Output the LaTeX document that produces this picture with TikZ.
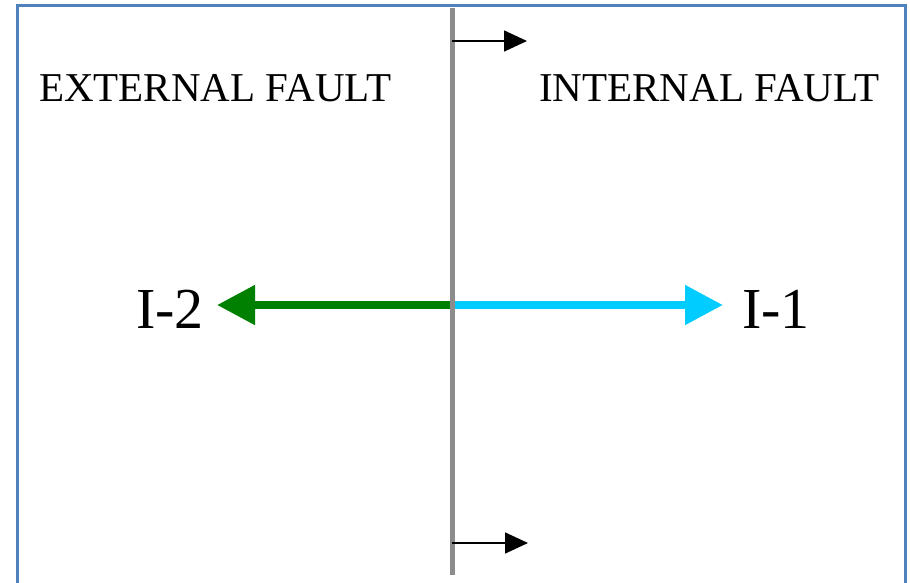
\documentclass[tikz,border=0pt]{standalone}
\usepackage{fontspec}
\setmainfont{Liberation Serif}
\usetikzlibrary{arrows.meta}
\definecolor{frameblue}{RGB}{79,129,189}
\definecolor{dividergray}{RGB}{140,140,140}
\definecolor{faultgreen}{RGB}{0,128,0}
\definecolor{faultcyan}{RGB}{0,204,255}
\begin{document}
\begin{tikzpicture}[x=1pt,y=-1pt,
  caption/.style={inner sep=0pt, anchor=base west, font=\fontsize{41}{44}\selectfont},
  currentlabel/.style={inner sep=0pt, anchor=base west, font=\fontsize{58}{60}\selectfont},
  bigarrow/.style={line width=8pt, -{Triangle[length=38pt,width=38pt]}},
  smallarrow/.style={line width=1.6pt, black, -{Triangle[length=23pt,width=21pt]}}]
  \useasboundingbox (0,0) rectangle (910,582);
  % outer frame, open at the bottom
  \draw[frameblue, line width=3pt] (17,590) -- (17,5) -- (905,5) -- (905,590);
  % boundary line
  \coordinate (divtop) at (452,8);
  \coordinate (divbot) at (452,575);
  \coordinate (origin) at (452,305);
  \coordinate (ttop) at (452,41);
  \coordinate (tbot) at (452,543);
  \coordinate (tipL) at (217,305);
  \coordinate (tipR) at (723,305);
  \coordinate (ttopend) at (527,41);
  \coordinate (tbotend) at (528,543);
  % labels
  \node[caption] (ext) at (39,101) {EXTERNAL FAULT};
  \node[caption] (int) at (539,101) {INTERNAL FAULT};
  \node[currentlabel] (i2) at (136,328) {I-2};
  \node[currentlabel] (i1) at (742,328) {I-1};
  % current arrows
  \draw[bigarrow, faultgreen] (origin) -- (tipL);
  \draw[bigarrow, faultcyan] (origin) -- (tipR);
  \draw[dividergray, line width=5pt] (divtop) -- (divbot);
  % direction markers
  \draw[smallarrow] (ttop) -- (ttopend);
  \draw[smallarrow] (tbot) -- (tbotend);
\end{tikzpicture}
\end{document}
